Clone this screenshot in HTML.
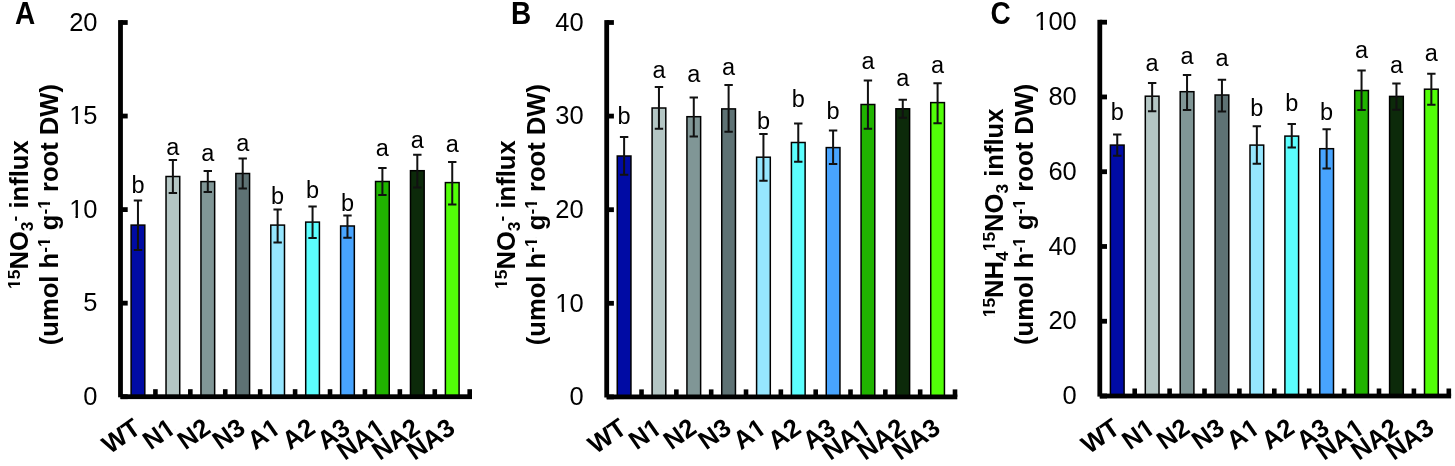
<!DOCTYPE html><html><head><meta charset="utf-8"><title>15N influx bar charts</title><style>html,body{margin:0;padding:0;background:#fff;}svg{display:block;filter:blur(0.45px);}</style></head><body>
<svg width="1455" height="466" viewBox="0 0 1455 466" font-family='"Liberation Sans", sans-serif'>
<rect width="1455" height="466" fill="#fff"/>
<text id="t1" font-weight="bold" transform="translate(15 23.6) scale(1 1.09)" font-size="28">A</text>
<rect x="131.11" y="225.10" width="13.70" height="171.60" fill="#000ba4" stroke="#000" stroke-width="1.5"/>
<path d="M137.96 200.50V250.00M133.76 200.50H142.16M133.76 250.00H142.16" stroke="#111" stroke-width="2" fill="none"/>
<text id="t2" x="137.96" y="193.00" font-size="23.5" text-anchor="middle">b</text>
<rect x="166.03" y="176.50" width="13.70" height="220.20" fill="#b4c6c4" stroke="#000" stroke-width="1.5"/>
<path d="M172.88 160.00V193.00M168.68 160.00H177.08M168.68 193.00H177.08" stroke="#111" stroke-width="2" fill="none"/>
<text id="t3" x="172.88" y="154.50" font-size="23.5" text-anchor="middle">a</text>
<rect x="200.95" y="181.60" width="13.70" height="215.10" fill="#809696" stroke="#000" stroke-width="1.5"/>
<path d="M207.80 171.00V192.00M203.60 171.00H212.00M203.60 192.00H212.00" stroke="#111" stroke-width="2" fill="none"/>
<text id="t4" x="207.80" y="160.60" font-size="23.5" text-anchor="middle">a</text>
<rect x="235.87" y="173.50" width="13.70" height="223.20" fill="#5e7274" stroke="#000" stroke-width="1.5"/>
<path d="M242.72 158.50V188.50M238.52 158.50H246.92M238.52 188.50H246.92" stroke="#111" stroke-width="2" fill="none"/>
<text id="t5" x="242.72" y="151.00" font-size="23.5" text-anchor="middle">a</text>
<rect x="270.79" y="225.10" width="13.70" height="171.60" fill="#96e6fe" stroke="#000" stroke-width="1.5"/>
<path d="M277.64 209.50V242.60M273.44 209.50H281.84M273.44 242.60H281.84" stroke="#111" stroke-width="2" fill="none"/>
<text id="t6" x="277.64" y="204.20" font-size="23.5" text-anchor="middle">b</text>
<rect x="305.71" y="222.10" width="13.70" height="174.60" fill="#5cfefe" stroke="#000" stroke-width="1.5"/>
<path d="M312.56 206.50V238.00M308.36 206.50H316.76M308.36 238.00H316.76" stroke="#111" stroke-width="2" fill="none"/>
<text id="t7" x="312.56" y="197.50" font-size="23.5" text-anchor="middle">b</text>
<rect x="340.63" y="226.00" width="13.70" height="170.70" fill="#48a4fe" stroke="#000" stroke-width="1.5"/>
<path d="M347.48 215.50V237.80M343.28 215.50H351.68M343.28 237.80H351.68" stroke="#111" stroke-width="2" fill="none"/>
<text id="t8" x="347.48" y="210.50" font-size="23.5" text-anchor="middle">b</text>
<rect x="375.55" y="181.50" width="13.70" height="215.20" fill="#20b400" stroke="#000" stroke-width="1.5"/>
<path d="M382.40 168.00V195.00M378.20 168.00H386.60M378.20 195.00H386.60" stroke="#111" stroke-width="2" fill="none"/>
<text id="t9" x="382.40" y="156.00" font-size="23.5" text-anchor="middle">a</text>
<rect x="410.47" y="170.70" width="13.70" height="226.00" fill="#0c2a0a" stroke="#000" stroke-width="1.5"/>
<path d="M417.32 154.80V187.50M413.12 154.80H421.52M413.12 187.50H421.52" stroke="#111" stroke-width="2" fill="none"/>
<text id="t10" x="417.32" y="147.80" font-size="23.5" text-anchor="middle">a</text>
<rect x="445.39" y="182.60" width="13.70" height="214.10" fill="#52fe08" stroke="#000" stroke-width="1.5"/>
<path d="M452.24 162.00V204.50M448.04 162.00H456.44M448.04 204.50H456.44" stroke="#111" stroke-width="2" fill="none"/>
<text id="t11" x="452.24" y="152.20" font-size="23.5" text-anchor="middle">a</text>
<text id="t12" font-weight="bold" transform="translate(142.26 431.7) rotate(-35)" font-size="25.6" text-anchor="end">WT</text>
<text id="t13" font-weight="bold" transform="translate(177.18 431.7) rotate(-35)" font-size="25.6" text-anchor="end">N1</text>
<g fill="#fff" transform="translate(177.18 431.7) rotate(-35)"><rect x="-13.24" y="-3.31" width="4.87" height="3.91"/><rect x="-4.65" y="-3.31" width="4.64" height="3.91"/></g>
<text id="t14" font-weight="bold" transform="translate(212.10 431.7) rotate(-35)" font-size="25.6" text-anchor="end">N2</text>
<text id="t15" font-weight="bold" transform="translate(247.02 431.7) rotate(-35)" font-size="25.6" text-anchor="end">N3</text>
<text id="t16" font-weight="bold" transform="translate(281.94 431.7) rotate(-35)" font-size="25.6" text-anchor="end">A1</text>
<g fill="#fff" transform="translate(281.94 431.7) rotate(-35)"><rect x="-13.24" y="-3.31" width="4.87" height="3.91"/><rect x="-4.65" y="-3.31" width="4.64" height="3.91"/></g>
<text id="t17" font-weight="bold" transform="translate(316.86 431.7) rotate(-35)" font-size="25.6" text-anchor="end">A2</text>
<text id="t18" font-weight="bold" transform="translate(351.78 431.7) rotate(-35)" font-size="25.6" text-anchor="end">A3</text>
<text id="t19" font-weight="bold" transform="translate(386.70 431.7) rotate(-35)" font-size="25.6" text-anchor="end">NA1</text>
<g fill="#fff" transform="translate(386.70 431.7) rotate(-35)"><rect x="-13.24" y="-3.31" width="4.87" height="3.91"/><rect x="-4.65" y="-3.31" width="4.64" height="3.91"/></g>
<text id="t20" font-weight="bold" transform="translate(421.62 431.7) rotate(-35)" font-size="25.6" text-anchor="end">NA2</text>
<text id="t21" font-weight="bold" transform="translate(456.54 431.7) rotate(-35)" font-size="25.6" text-anchor="end">NA3</text>
<rect x="153.12" y="389.20" width="4.6" height="7.5" fill="#000"/>
<rect x="188.04" y="389.20" width="4.6" height="7.5" fill="#000"/>
<rect x="222.96" y="389.20" width="4.6" height="7.5" fill="#000"/>
<rect x="257.88" y="389.20" width="4.6" height="7.5" fill="#000"/>
<rect x="292.80" y="389.20" width="4.6" height="7.5" fill="#000"/>
<rect x="327.72" y="389.20" width="4.6" height="7.5" fill="#000"/>
<rect x="362.64" y="389.20" width="4.6" height="7.5" fill="#000"/>
<rect x="397.56" y="389.20" width="4.6" height="7.5" fill="#000"/>
<rect x="432.48" y="389.20" width="4.6" height="7.5" fill="#000"/>
<rect x="467.40" y="389.20" width="4.6" height="7.5" fill="#000"/>
<rect x="120.50" y="394.30" width="7.2" height="4.8" fill="#000"/>
<text id="t22" transform="translate(97.50 404.90) scale(1 1.03)" font-size="25.5" text-anchor="end">0</text>
<rect x="120.50" y="300.75" width="7.2" height="4.8" fill="#000"/>
<text id="t23" transform="translate(97.50 311.35) scale(1 1.03)" font-size="25.5" text-anchor="end">5</text>
<rect x="120.50" y="207.20" width="7.2" height="4.8" fill="#000"/>
<text id="t24" transform="translate(97.50 217.80) scale(1 1.03)" font-size="25.5" text-anchor="end">10</text>
<g fill="#fff" transform="translate(97.50 217.80) scale(1 1.03)"><rect x="-27.01" y="-2.60" width="4.97" height="3.20"/><rect x="-19.59" y="-2.60" width="4.87" height="3.20"/></g>
<rect x="120.50" y="113.65" width="7.2" height="4.8" fill="#000"/>
<text id="t25" transform="translate(97.50 124.25) scale(1 1.03)" font-size="25.5" text-anchor="end">15</text>
<g fill="#fff" transform="translate(97.50 124.25) scale(1 1.03)"><rect x="-27.01" y="-2.60" width="4.97" height="3.20"/><rect x="-19.59" y="-2.60" width="4.87" height="3.20"/></g>
<rect x="120.50" y="20.10" width="7.2" height="4.8" fill="#000"/>
<text id="t26" transform="translate(97.50 30.70) scale(1 1.03)" font-size="25.5" text-anchor="end">20</text>
<rect x="118.10" y="20.10" width="4.8" height="377.20" fill="#000"/>
<rect x="120.50" y="394.30" width="351.50" height="4.8" fill="#000"/>
<text id="t27" font-weight="bold" transform="rotate(-90)" x="-214.6" y="28.2" font-size="25.6" text-anchor="middle"><tspan font-size="17.4" dy="-8">15</tspan><tspan dy="8">NO</tspan><tspan font-size="17.4" dy="5">3</tspan><tspan font-size="17.4" dy="-13">-</tspan><tspan dy="8"> influx</tspan></text>
<g fill="#fff" transform="rotate(-90)"><rect x="-288.39" y="17.73" width="3.46" height="3.07"/><rect x="-282.34" y="17.73" width="3.34" height="3.07"/></g>
<text id="t28" font-weight="bold" transform="rotate(-90)" x="-214.6" y="57.6" font-size="25.6" text-anchor="middle"><tspan dy="0">(umol h</tspan><tspan font-size="17.4" dy="-8">-1</tspan><tspan dy="8"> g</tspan><tspan font-size="17.4" dy="-8">-1</tspan><tspan dy="8"> root DW)</tspan></text>
<g fill="#fff" transform="rotate(-90)"><rect x="-246.53" y="47.12" width="3.47" height="3.08"/><rect x="-240.47" y="47.12" width="3.35" height="3.08"/><rect x="-208.31" y="47.12" width="3.47" height="3.08"/><rect x="-202.26" y="47.12" width="3.35" height="3.08"/></g>
<text id="t29" font-weight="bold" transform="translate(511 23.6) scale(1 1.09)" font-size="28">B</text>
<rect x="617.26" y="156.00" width="13.70" height="240.90" fill="#000ba4" stroke="#000" stroke-width="1.5"/>
<path d="M624.12 137.10V174.70M619.91 137.10H628.32M619.91 174.70H628.32" stroke="#111" stroke-width="2" fill="none"/>
<text id="t30" x="624.12" y="123.60" font-size="23.5" text-anchor="middle">b</text>
<rect x="652.10" y="108.00" width="13.70" height="288.90" fill="#b4c6c4" stroke="#000" stroke-width="1.5"/>
<path d="M658.95 87.00V128.70M654.75 87.00H663.15M654.75 128.70H663.15" stroke="#111" stroke-width="2" fill="none"/>
<text id="t31" x="658.95" y="77.60" font-size="23.5" text-anchor="middle">a</text>
<rect x="686.93" y="116.70" width="13.70" height="280.20" fill="#809696" stroke="#000" stroke-width="1.5"/>
<path d="M693.78 97.50V136.50M689.58 97.50H697.98M689.58 136.50H697.98" stroke="#111" stroke-width="2" fill="none"/>
<text id="t32" x="693.78" y="82.40" font-size="23.5" text-anchor="middle">a</text>
<rect x="721.75" y="108.90" width="13.70" height="288.00" fill="#5e7274" stroke="#000" stroke-width="1.5"/>
<path d="M728.61 85.10V131.70M724.40 85.10H732.81M724.40 131.70H732.81" stroke="#111" stroke-width="2" fill="none"/>
<text id="t33" x="728.61" y="74.60" font-size="23.5" text-anchor="middle">a</text>
<rect x="756.59" y="157.20" width="13.70" height="239.70" fill="#96e6fe" stroke="#000" stroke-width="1.5"/>
<path d="M763.44 134.10V180.70M759.24 134.10H767.64M759.24 180.70H767.64" stroke="#111" stroke-width="2" fill="none"/>
<text id="t34" x="763.44" y="128.70" font-size="23.5" text-anchor="middle">b</text>
<rect x="791.42" y="142.50" width="13.70" height="254.40" fill="#5cfefe" stroke="#000" stroke-width="1.5"/>
<path d="M798.27 123.60V161.70M794.07 123.60H802.47M794.07 161.70H802.47" stroke="#111" stroke-width="2" fill="none"/>
<text id="t35" x="798.27" y="106.50" font-size="23.5" text-anchor="middle">b</text>
<rect x="826.25" y="147.60" width="13.70" height="249.30" fill="#48a4fe" stroke="#000" stroke-width="1.5"/>
<path d="M833.10 130.50V164.10M828.89 130.50H837.30M828.89 164.10H837.30" stroke="#111" stroke-width="2" fill="none"/>
<text id="t36" x="833.10" y="118.50" font-size="23.5" text-anchor="middle">b</text>
<rect x="861.07" y="104.50" width="13.70" height="292.40" fill="#20b400" stroke="#000" stroke-width="1.5"/>
<path d="M867.92 80.50V128.70M863.72 80.50H872.12M863.72 128.70H872.12" stroke="#111" stroke-width="2" fill="none"/>
<text id="t37" x="867.92" y="68.60" font-size="23.5" text-anchor="middle">a</text>
<rect x="895.91" y="108.80" width="13.70" height="288.10" fill="#0c2a0a" stroke="#000" stroke-width="1.5"/>
<path d="M902.76 99.70V117.80M898.56 99.70H906.96M898.56 117.80H906.96" stroke="#111" stroke-width="2" fill="none"/>
<text id="t38" x="902.76" y="85.80" font-size="23.5" text-anchor="middle">a</text>
<rect x="930.74" y="102.60" width="13.70" height="294.30" fill="#52fe08" stroke="#000" stroke-width="1.5"/>
<path d="M937.59 83.30V123.20M933.38 83.30H941.79M933.38 123.20H941.79" stroke="#111" stroke-width="2" fill="none"/>
<text id="t39" x="937.59" y="72.70" font-size="23.5" text-anchor="middle">a</text>
<text id="t40" font-weight="bold" transform="translate(628.41 431.7) rotate(-35)" font-size="25.6" text-anchor="end">WT</text>
<text id="t41" font-weight="bold" transform="translate(663.25 431.7) rotate(-35)" font-size="25.6" text-anchor="end">N1</text>
<g fill="#fff" transform="translate(663.25 431.7) rotate(-35)"><rect x="-13.24" y="-3.31" width="4.87" height="3.91"/><rect x="-4.65" y="-3.31" width="4.64" height="3.91"/></g>
<text id="t42" font-weight="bold" transform="translate(698.08 431.7) rotate(-35)" font-size="25.6" text-anchor="end">N2</text>
<text id="t43" font-weight="bold" transform="translate(732.90 431.7) rotate(-35)" font-size="25.6" text-anchor="end">N3</text>
<text id="t44" font-weight="bold" transform="translate(767.74 431.7) rotate(-35)" font-size="25.6" text-anchor="end">A1</text>
<g fill="#fff" transform="translate(767.74 431.7) rotate(-35)"><rect x="-13.24" y="-3.31" width="4.87" height="3.91"/><rect x="-4.65" y="-3.31" width="4.64" height="3.91"/></g>
<text id="t45" font-weight="bold" transform="translate(802.57 431.7) rotate(-35)" font-size="25.6" text-anchor="end">A2</text>
<text id="t46" font-weight="bold" transform="translate(837.39 431.7) rotate(-35)" font-size="25.6" text-anchor="end">A3</text>
<text id="t47" font-weight="bold" transform="translate(872.22 431.7) rotate(-35)" font-size="25.6" text-anchor="end">NA1</text>
<g fill="#fff" transform="translate(872.22 431.7) rotate(-35)"><rect x="-13.24" y="-3.31" width="4.87" height="3.91"/><rect x="-4.65" y="-3.31" width="4.64" height="3.91"/></g>
<text id="t48" font-weight="bold" transform="translate(907.06 431.7) rotate(-35)" font-size="25.6" text-anchor="end">NA2</text>
<text id="t49" font-weight="bold" transform="translate(941.88 431.7) rotate(-35)" font-size="25.6" text-anchor="end">NA3</text>
<rect x="639.23" y="389.40" width="4.6" height="7.5" fill="#000"/>
<rect x="674.06" y="389.40" width="4.6" height="7.5" fill="#000"/>
<rect x="708.89" y="389.40" width="4.6" height="7.5" fill="#000"/>
<rect x="743.72" y="389.40" width="4.6" height="7.5" fill="#000"/>
<rect x="778.55" y="389.40" width="4.6" height="7.5" fill="#000"/>
<rect x="813.38" y="389.40" width="4.6" height="7.5" fill="#000"/>
<rect x="848.21" y="389.40" width="4.6" height="7.5" fill="#000"/>
<rect x="883.04" y="389.40" width="4.6" height="7.5" fill="#000"/>
<rect x="917.87" y="389.40" width="4.6" height="7.5" fill="#000"/>
<rect x="952.70" y="389.40" width="4.6" height="7.5" fill="#000"/>
<rect x="606.70" y="394.50" width="7.2" height="4.8" fill="#000"/>
<text id="t50" transform="translate(583.70 405.10) scale(1 1.03)" font-size="25.5" text-anchor="end">0</text>
<rect x="606.70" y="300.90" width="7.2" height="4.8" fill="#000"/>
<text id="t51" transform="translate(583.70 311.50) scale(1 1.03)" font-size="25.5" text-anchor="end">10</text>
<g fill="#fff" transform="translate(583.70 311.50) scale(1 1.03)"><rect x="-27.01" y="-2.60" width="4.97" height="3.20"/><rect x="-19.59" y="-2.60" width="4.87" height="3.20"/></g>
<rect x="606.70" y="207.30" width="7.2" height="4.8" fill="#000"/>
<text id="t52" transform="translate(583.70 217.90) scale(1 1.03)" font-size="25.5" text-anchor="end">20</text>
<rect x="606.70" y="113.70" width="7.2" height="4.8" fill="#000"/>
<text id="t53" transform="translate(583.70 124.30) scale(1 1.03)" font-size="25.5" text-anchor="end">30</text>
<rect x="606.70" y="20.10" width="7.2" height="4.8" fill="#000"/>
<text id="t54" transform="translate(583.70 30.70) scale(1 1.03)" font-size="25.5" text-anchor="end">40</text>
<rect x="604.30" y="20.10" width="4.8" height="377.40" fill="#000"/>
<rect x="606.70" y="394.50" width="350.60" height="4.8" fill="#000"/>
<text id="t55" font-weight="bold" transform="rotate(-90)" x="-214.6" y="514.6" font-size="25.6" text-anchor="middle"><tspan font-size="17.4" dy="-8">15</tspan><tspan dy="8">NO</tspan><tspan font-size="17.4" dy="5">3</tspan><tspan font-size="17.4" dy="-13">-</tspan><tspan dy="8"> influx</tspan></text>
<g fill="#fff" transform="rotate(-90)"><rect x="-288.39" y="504.13" width="3.46" height="3.07"/><rect x="-282.34" y="504.13" width="3.34" height="3.07"/></g>
<text id="t56" font-weight="bold" transform="rotate(-90)" x="-214.6" y="544.6" font-size="25.6" text-anchor="middle"><tspan dy="0">(umol h</tspan><tspan font-size="17.4" dy="-8">-1</tspan><tspan dy="8"> g</tspan><tspan font-size="17.4" dy="-8">-1</tspan><tspan dy="8"> root DW)</tspan></text>
<g fill="#fff" transform="rotate(-90)"><rect x="-246.53" y="534.12" width="3.47" height="3.08"/><rect x="-240.47" y="534.12" width="3.35" height="3.08"/><rect x="-208.31" y="534.12" width="3.47" height="3.08"/><rect x="-202.26" y="534.12" width="3.35" height="3.08"/></g>
<text id="t57" font-weight="bold" transform="translate(990.5 23.6) scale(1 1.09)" font-size="28">C</text>
<rect x="1110.40" y="145.10" width="13.70" height="250.90" fill="#000ba4" stroke="#000" stroke-width="1.5"/>
<path d="M1117.25 134.60V155.70M1113.05 134.60H1121.45M1113.05 155.70H1121.45" stroke="#111" stroke-width="2" fill="none"/>
<text id="t58" x="1117.25" y="119.60" font-size="23.5" text-anchor="middle">b</text>
<rect x="1145.30" y="96.20" width="13.70" height="299.80" fill="#b4c6c4" stroke="#000" stroke-width="1.5"/>
<path d="M1152.15 83.00V111.20M1147.95 83.00H1156.35M1147.95 111.20H1156.35" stroke="#111" stroke-width="2" fill="none"/>
<text id="t59" x="1152.15" y="71.00" font-size="23.5" text-anchor="middle">a</text>
<rect x="1180.20" y="91.70" width="13.70" height="304.30" fill="#809696" stroke="#000" stroke-width="1.5"/>
<path d="M1187.05 75.10V110.00M1182.85 75.10H1191.25M1182.85 110.00H1191.25" stroke="#111" stroke-width="2" fill="none"/>
<text id="t60" x="1187.05" y="64.00" font-size="23.5" text-anchor="middle">a</text>
<rect x="1215.10" y="95.00" width="13.70" height="301.00" fill="#5e7274" stroke="#000" stroke-width="1.5"/>
<path d="M1221.95 79.70V111.50M1217.75 79.70H1226.15M1217.75 111.50H1226.15" stroke="#111" stroke-width="2" fill="none"/>
<text id="t61" x="1221.95" y="65.50" font-size="23.5" text-anchor="middle">a</text>
<rect x="1250.00" y="145.10" width="13.70" height="250.90" fill="#96e6fe" stroke="#000" stroke-width="1.5"/>
<path d="M1256.85 126.20V163.80M1252.65 126.20H1261.05M1252.65 163.80H1261.05" stroke="#111" stroke-width="2" fill="none"/>
<text id="t62" x="1256.85" y="115.70" font-size="23.5" text-anchor="middle">b</text>
<rect x="1284.90" y="136.10" width="13.70" height="259.90" fill="#5cfefe" stroke="#000" stroke-width="1.5"/>
<path d="M1291.75 124.10V147.50M1287.55 124.10H1295.95M1287.55 147.50H1295.95" stroke="#111" stroke-width="2" fill="none"/>
<text id="t63" x="1291.75" y="110.60" font-size="23.5" text-anchor="middle">b</text>
<rect x="1319.80" y="148.70" width="13.70" height="247.30" fill="#48a4fe" stroke="#000" stroke-width="1.5"/>
<path d="M1326.65 129.20V168.60M1322.45 129.20H1330.85M1322.45 168.60H1330.85" stroke="#111" stroke-width="2" fill="none"/>
<text id="t64" x="1326.65" y="119.60" font-size="23.5" text-anchor="middle">b</text>
<rect x="1354.70" y="90.50" width="13.70" height="305.50" fill="#20b400" stroke="#000" stroke-width="1.5"/>
<path d="M1361.55 70.60V110.00M1357.35 70.60H1365.75M1357.35 110.00H1365.75" stroke="#111" stroke-width="2" fill="none"/>
<text id="t65" x="1361.55" y="58.00" font-size="23.5" text-anchor="middle">a</text>
<rect x="1389.60" y="96.40" width="13.70" height="299.60" fill="#0c2a0a" stroke="#000" stroke-width="1.5"/>
<path d="M1396.45 83.60V109.80M1392.25 83.60H1400.65M1392.25 109.80H1400.65" stroke="#111" stroke-width="2" fill="none"/>
<text id="t66" x="1396.45" y="72.50" font-size="23.5" text-anchor="middle">a</text>
<rect x="1424.50" y="89.20" width="13.70" height="306.80" fill="#52fe08" stroke="#000" stroke-width="1.5"/>
<path d="M1431.35 73.80V104.70M1427.15 73.80H1435.55M1427.15 104.70H1435.55" stroke="#111" stroke-width="2" fill="none"/>
<text id="t67" x="1431.35" y="61.40" font-size="23.5" text-anchor="middle">a</text>
<text id="t68" font-weight="bold" transform="translate(1121.55 431.7) rotate(-35)" font-size="25.6" text-anchor="end">WT</text>
<text id="t69" font-weight="bold" transform="translate(1156.45 431.7) rotate(-35)" font-size="25.6" text-anchor="end">N1</text>
<g fill="#fff" transform="translate(1156.45 431.7) rotate(-35)"><rect x="-13.24" y="-3.31" width="4.87" height="3.91"/><rect x="-4.65" y="-3.31" width="4.64" height="3.91"/></g>
<text id="t70" font-weight="bold" transform="translate(1191.35 431.7) rotate(-35)" font-size="25.6" text-anchor="end">N2</text>
<text id="t71" font-weight="bold" transform="translate(1226.25 431.7) rotate(-35)" font-size="25.6" text-anchor="end">N3</text>
<text id="t72" font-weight="bold" transform="translate(1261.15 431.7) rotate(-35)" font-size="25.6" text-anchor="end">A1</text>
<g fill="#fff" transform="translate(1261.15 431.7) rotate(-35)"><rect x="-13.24" y="-3.31" width="4.87" height="3.91"/><rect x="-4.65" y="-3.31" width="4.64" height="3.91"/></g>
<text id="t73" font-weight="bold" transform="translate(1296.05 431.7) rotate(-35)" font-size="25.6" text-anchor="end">A2</text>
<text id="t74" font-weight="bold" transform="translate(1330.95 431.7) rotate(-35)" font-size="25.6" text-anchor="end">A3</text>
<text id="t75" font-weight="bold" transform="translate(1365.85 431.7) rotate(-35)" font-size="25.6" text-anchor="end">NA1</text>
<g fill="#fff" transform="translate(1365.85 431.7) rotate(-35)"><rect x="-13.24" y="-3.31" width="4.87" height="3.91"/><rect x="-4.65" y="-3.31" width="4.64" height="3.91"/></g>
<text id="t76" font-weight="bold" transform="translate(1400.75 431.7) rotate(-35)" font-size="25.6" text-anchor="end">NA2</text>
<text id="t77" font-weight="bold" transform="translate(1435.65 431.7) rotate(-35)" font-size="25.6" text-anchor="end">NA3</text>
<rect x="1132.40" y="388.50" width="4.6" height="7.5" fill="#000"/>
<rect x="1167.30" y="388.50" width="4.6" height="7.5" fill="#000"/>
<rect x="1202.20" y="388.50" width="4.6" height="7.5" fill="#000"/>
<rect x="1237.10" y="388.50" width="4.6" height="7.5" fill="#000"/>
<rect x="1272.00" y="388.50" width="4.6" height="7.5" fill="#000"/>
<rect x="1306.90" y="388.50" width="4.6" height="7.5" fill="#000"/>
<rect x="1341.80" y="388.50" width="4.6" height="7.5" fill="#000"/>
<rect x="1376.70" y="388.50" width="4.6" height="7.5" fill="#000"/>
<rect x="1411.60" y="388.50" width="4.6" height="7.5" fill="#000"/>
<rect x="1446.50" y="388.50" width="4.6" height="7.5" fill="#000"/>
<rect x="1099.80" y="393.60" width="7.2" height="4.8" fill="#000"/>
<text id="t78" transform="translate(1076.80 404.20) scale(1 1.03)" font-size="25.5" text-anchor="end">0</text>
<rect x="1099.80" y="318.84" width="7.2" height="4.8" fill="#000"/>
<text id="t79" transform="translate(1076.80 329.44) scale(1 1.03)" font-size="25.5" text-anchor="end">20</text>
<rect x="1099.80" y="244.08" width="7.2" height="4.8" fill="#000"/>
<text id="t80" transform="translate(1076.80 254.68) scale(1 1.03)" font-size="25.5" text-anchor="end">40</text>
<rect x="1099.80" y="169.32" width="7.2" height="4.8" fill="#000"/>
<text id="t81" transform="translate(1076.80 179.92) scale(1 1.03)" font-size="25.5" text-anchor="end">60</text>
<rect x="1099.80" y="94.56" width="7.2" height="4.8" fill="#000"/>
<text id="t82" transform="translate(1076.80 105.16) scale(1 1.03)" font-size="25.5" text-anchor="end">80</text>
<rect x="1099.80" y="19.80" width="7.2" height="4.8" fill="#000"/>
<text id="t83" transform="translate(1076.80 30.40) scale(1 1.03)" font-size="25.5" text-anchor="end">100</text>
<g fill="#fff" transform="translate(1076.80 30.40) scale(1 1.03)"><rect x="-41.19" y="-2.60" width="4.97" height="3.20"/><rect x="-33.77" y="-2.60" width="4.87" height="3.20"/></g>
<rect x="1097.40" y="19.80" width="4.8" height="376.80" fill="#000"/>
<rect x="1099.80" y="393.60" width="351.30" height="4.8" fill="#000"/>
<text id="t84" font-weight="bold" transform="rotate(-90)" x="-212.9" y="1003" font-size="25.6" text-anchor="middle"><tspan font-size="17.4" dy="-8">15</tspan><tspan dy="8">NH</tspan><tspan font-size="17.4" dy="5">4</tspan><tspan font-size="17.4" dy="-13">15</tspan><tspan dy="8">NO</tspan><tspan font-size="17.4" dy="5">3</tspan><tspan dy="-5"> influx</tspan></text>
<g fill="#fff" transform="rotate(-90)"><rect x="-316.78" y="992.53" width="3.46" height="3.07"/><rect x="-310.73" y="992.53" width="3.34" height="3.07"/><rect x="-250.80" y="992.53" width="3.46" height="3.07"/><rect x="-244.75" y="992.53" width="3.34" height="3.07"/></g>
<text id="t85" font-weight="bold" transform="rotate(-90)" x="-214.3" y="1033.4" font-size="25.6" text-anchor="middle"><tspan dy="0">(umol h</tspan><tspan font-size="17.4" dy="-8">-1</tspan><tspan dy="8"> g</tspan><tspan font-size="17.4" dy="-8">-1</tspan><tspan dy="8"> root DW)</tspan></text>
<g fill="#fff" transform="rotate(-90)"><rect x="-246.23" y="1022.92" width="3.47" height="3.08"/><rect x="-240.17" y="1022.92" width="3.35" height="3.08"/><rect x="-208.01" y="1022.92" width="3.47" height="3.08"/><rect x="-201.96" y="1022.92" width="3.35" height="3.08"/></g>
</svg></body></html>
